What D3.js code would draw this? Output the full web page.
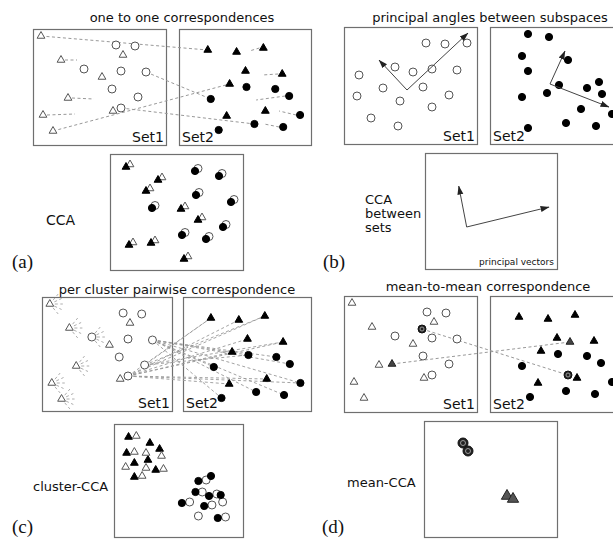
<!DOCTYPE html>
<html lang="en">
<head>
<meta charset="UTF-8">
<script src="https://d3js.org/d3.v7.min.js"></script>
<style>
body { margin: 0; background: #fff; }
text { font-family: "DejaVu Sans", sans-serif; fill: #111; }
.lab { font-family: "Liberation Serif", serif; }
</style>
</head>
<body>
<svg id="fig" width="613" height="539"></svg>
<script>
// all points are in box units: x 0..133, y 0..116, origin = top left of the box
const set1Tri  = [[8,7],[90,26],[28,31],[69,48],[35,69],[10,86],[80,82],[20,102]];
const set1Circ = [[83,16],[102,17],[51,40],[88,42],[113,43],[79,60],[105,68],[88,79]];
const set2Tri  = [[29,21],[58,23],[85,19],[67,42],[104,45],[51,55],[87,82],[48,87]];
const set2Circ = [[32,70],[68,58],[97,60],[111,67],[122,86],[76,95],[105,98],[40,101]];

// (a) one to one correspondences: [kind1, i1, kind2, i2]
const oneToOne = [["t",0,"t",0],["t",7,"t",5],["c",4,"c",0],["c",7,"c",5]];
// short dashed stubs [kind, index, dx, dy]
const stubs1 = [["t",2,16,0],["t",4,26,1],["t",5,32,-1]];
const stubs2 = [["t",2,-14,3],["t",4,-20,1],["c",3,-33,4],["c",4,-21,-4],["c",6,-19,-3]];
// CCA result (filled point, open partner drawn slightly up-right)
const ccaTri  = [[16,13],[48,26],[36,37],[71,55],[88,66],[19,91],[41,89],[74,105]];
const ccaCirc = [[85,17],[109,22],[86,41],[121,48],[42,54],[113,73],[72,81],[96,85]];

// (b) principal angles
const bSet1 = [[82,16],[101,17],[123,16],[51,40],[69,45],[88,42],[113,43],[15,48],
               [39,61],[79,60],[13,69],[105,68],[56,74],[88,80],[27,91],[54,99]];
const bSet2 = [[38,7],[59,10],[32,29],[78,33],[38,44],[69,58],[109,55],[97,61],
               [112,67],[32,70],[57,66],[91,82],[122,87],[38,101],[76,96],[106,99]];
const bVec1 = {o:[63,63], tips:[[35,33],[124,6]]};
const bVec2 = {o:[60,57], tips:[[75,24],[119,80]]};
const bVecCCA = {o:[42,74], tips:[[34,33],[125,54]]};

// (c) per cluster pairwise: [set1 circle index, kind, set2 index]
const pairLinks = [
  [4,"c",0],[4,"c",1],[4,"c",2],[4,"c",3],[4,"c",4],[4,"c",5],[4,"c",6],[4,"c",7],
  [7,"t",0],[7,"t",1],[7,"t",2],[7,"t",3],[7,"t",4],[7,"t",5],[7,"t",6],[7,"t",7],[7,"c",4],
  [6,"t",0],[6,"t",2],[6,"t",4],[6,"c",1]
];
const fanTri = [0,2,4,5,7];
const fanCirc = [2];
const clusterTriF = [[15,13],[37,19],[13,29],[47,25],[35,36],[21,39],[43,46],[21,53]];
const clusterTriO = [[23,12],[21,28],[33,29],[49,32],[12,43],[33,44],[51,45],[29,52]];
const clusterCircF = [[87,57],[100,52],[84,68],[98,72],[110,71],[70,79],[93,82],[107,94]];
const clusterCircO = [[95,56],[91,68],[106,70],[112,78],[78,78],[101,81],[87,92],[115,93]];

// (d) mean-to-mean
const meanS1 = {c:[78,33], t:[48,68]};
const meanS2 = {c:[78,79], t:[80,46]};
const meanCCACirc = [[39,22],[44,30]];
const meanCCATri = [[83,75],[89,78]];

const titles = ["one to one correspondences","principal angles between subspaces",
                "per cluster pairwise correspondence","mean-to-mean correspondence"];

// layout
const L = {
  a: {s1:{x:33,y:29,w:133,h:116}, s2:{x:179,y:29,w:132,h:116}, low:{x:110,y:154,w:133,h:116}},
  b: {s1:{x:344,y:27,w:133,h:117}, s2:{x:490,y:27,w:133,h:117}, low:{x:425,y:153,w:132,h:116}},
  c: {s1:{x:42,y:297,w:130,h:114}, s2:{x:183,y:297,w:128,h:114}, low:{x:114,y:424,w:129,h:113}},
  d: {s1:{x:344,y:296,w:133,h:116}, s2:{x:490,y:296,w:133,h:116}, low:{x:424,y:421,w:133,h:116}}
};

const svg = d3.select("#fig");
const GRAY = "#6f6f6f";

svg.append("defs").append("marker")
  .attr("id","arr").attr("viewBox","0 -4 9 8")
  .attr("refX",8.5).attr("refY",0)
  .attr("markerWidth",9).attr("markerHeight",8)
  .attr("markerUnits","userSpaceOnUse").attr("orient","auto")
  .append("path").attr("d","M0,-3L9,0L0,3Z").attr("fill","#222");

function scales(b) {
  return {
    x: d3.scaleLinear().domain([0,133]).range([b.x, b.x + b.w]),
    y: d3.scaleLinear().domain([0,116]).range([b.y, b.y + b.h * 116 / b.h])
  };
}

function box(b) {
  svg.append("rect").attr("x",b.x+0.5).attr("y",b.y+0.5)
    .attr("width",b.w).attr("height",b.h)
    .attr("fill","none").attr("stroke",GRAY).attr("stroke-width",1.2);
}

const triPath = size => d3.symbol().type(d3.symbolTriangle).size(size)();

function circles(pts, s, r, fill, stroke, dx = 0, dy = 0) {
  svg.append("g").selectAll("circle").data(pts).join("circle")
    .attr("cx", d => s.x(d[0]) + dx).attr("cy", d => s.y(d[1]) + dy)
    .attr("r", r).attr("fill", fill).attr("stroke", stroke).attr("stroke-width", 1);
}

function tris(pts, s, size, fill, stroke, dx = 0, dy = 0) {
  svg.append("g").selectAll("path").data(pts).join("path")
    .attr("d", triPath(size))
    .attr("transform", d => `translate(${s.x(d[0]) + dx},${s.y(d[1]) + dy})`)
    .attr("fill", fill).attr("stroke", stroke).attr("stroke-width", 1);
}

function dash(x1, y1, x2, y2, w = 1) {
  svg.append("line").attr("x1",x1).attr("y1",y1).attr("x2",x2).attr("y2",y2)
    .attr("stroke","#999").attr("stroke-width",w).attr("stroke-dasharray","3,2.5");
}

function setPanels(p) {
  box(p.s1); box(p.s2);
  svg.append("text").attr("x",p.s1.x+p.s1.w-2).attr("y",p.s1.y+p.s1.h-3)
    .attr("text-anchor","end").attr("font-size",14).text("Set1");
  svg.append("text").attr("x",p.s2.x+3).attr("y",p.s2.y+p.s2.h-3)
    .attr("font-size",14).text("Set2");
}

function vectors(v, s) {
  v.tips.forEach(t => {
    svg.append("line").attr("x1",s.x(v.o[0])).attr("y1",s.y(v.o[1]))
      .attr("x2",s.x(t[0])).attr("y2",s.y(t[1]))
      .attr("stroke","#444").attr("stroke-width",1).attr("marker-end","url(#arr)");
  });
}

const pick = (kind, i, tri, circ) => kind === "t" ? tri[i] : circ[i];

const OPEN = "#555", R = 4, TS = 26;

// ---------- (a) ----------
{
  const p = L.a, a1 = scales(p.s1), a2 = scales(p.s2), lo = scales(p.low);
  setPanels(p); box(p.low);
  oneToOne.forEach(([k1,i1,k2,i2]) => {
    const u = pick(k1,i1,set1Tri,set1Circ), v = pick(k2,i2,set2Tri,set2Circ);
    dash(a1.x(u[0]), a1.y(u[1]), a2.x(v[0]), a2.y(v[1]));
  });
  stubs1.forEach(([k,i,dx,dy]) => {
    const u = pick(k,i,set1Tri,set1Circ);
    dash(a1.x(u[0])+4, a1.y(u[1]), a1.x(u[0])+dx, a1.y(u[1])+dy);
  });
  stubs2.forEach(([k,i,dx,dy]) => {
    const u = pick(k,i,set2Tri,set2Circ);
    dash(a2.x(u[0])-4, a2.y(u[1]), a2.x(u[0])+dx, a2.y(u[1])+dy);
  });
  tris(set1Tri, a1, TS, "#fff", OPEN);
  circles(set1Circ, a1, R, "#fff", OPEN);
  tris(set2Tri, a2, TS, "#000", "#000");
  circles(set2Circ, a2, 3.6, "#000", "#000");
  tris(ccaTri, lo, TS, "#fff", OPEN, 4, -2.5);
  tris(ccaTri, lo, TS, "#000", "#000");
  circles(ccaCirc, lo, R, "#fff", OPEN, 3, -2.5);
  circles(ccaCirc, lo, 3.6, "#000", "#000");
  svg.append("text").attr("x",46).attr("y",225).attr("font-size",14).text("CCA");
  svg.append("text").attr("x",182).attr("y",22).attr("text-anchor","middle").attr("font-size",13).text(titles[0]);
  svg.append("text").attr("class","lab").attr("x",12).attr("y",268).attr("font-size",19).text("(a)");
}

// ---------- (b) ----------
{
  const p = L.b, b1 = scales(p.s1), b2 = scales(p.s2), lo = scales(p.low);
  setPanels(p); box(p.low);
  circles(bSet1, b1, R, "#fff", OPEN);
  circles(bSet2, b2, 3.6, "#000", "#000");
  vectors(bVec1, b1); vectors(bVec2, b2); vectors(bVecCCA, lo);
  ["CCA","between","sets"].forEach((t,i) =>
    svg.append("text").attr("x",365).attr("y",204+i*14).attr("font-size",13).text(t));
  svg.append("text").attr("x",p.low.x+p.low.w-3).attr("y",p.low.y+p.low.h-4)
    .attr("text-anchor","end").attr("font-size",9).text("principal vectors");
  svg.append("text").attr("x",490).attr("y",22).attr("text-anchor","middle").attr("font-size",13).text(titles[1]);
  svg.append("text").attr("class","lab").attr("x",323).attr("y",268).attr("font-size",19).text("(b)");
}

// ---------- (c) ----------
{
  const p = L.c, c1 = scales(p.s1), c2 = scales(p.s2), lo = scales(p.low);
  setPanels(p); box(p.low);
  pairLinks.forEach(([i,k,j]) => {
    const u = set1Circ[i], v = pick(k,j,set2Tri,set2Circ);
    dash(c1.x(u[0]), c1.y(u[1]), c2.x(v[0]), c2.y(v[1]), 0.9);
  });
  const fanPts = fanTri.map(i => set1Tri[i]).concat(fanCirc.map(i => set1Circ[i]));
  fanPts.forEach(u => {
    d3.range(-50, 51, 25).forEach(a => {
      const r = a * Math.PI / 180, x = c1.x(u[0]), y = c1.y(u[1]);
      dash(x + 5*Math.cos(r), y + 5*Math.sin(r), x + 13*Math.cos(r), y + 13*Math.sin(r), 0.8);
    });
  });
  tris(set1Tri, c1, TS, "#fff", OPEN);
  circles(set1Circ, c1, R, "#fff", OPEN);
  tris(set2Tri, c2, TS, "#000", "#000");
  circles(set2Circ, c2, 3.6, "#000", "#000");
  tris(clusterTriF, lo, TS, "#000", "#000");
  tris(clusterTriO, lo, TS, "#fff", OPEN);
  circles(clusterCircO, lo, R, "#fff", OPEN);
  circles(clusterCircF, lo, 3.6, "#000", "#000");
  svg.append("text").attr("x",33).attr("y",491).attr("font-size",13).text("cluster-CCA");
  svg.append("text").attr("x",177).attr("y",294).attr("text-anchor","middle").attr("font-size",13).text(titles[2]);
  svg.append("text").attr("class","lab").attr("x",12).attr("y",533).attr("font-size",19).text("(c)");
}

// ---------- (d) ----------
{
  const p = L.d, d1 = scales(p.s1), d2 = scales(p.s2), lo = scales(p.low);
  setPanels(p); box(p.low);
  dash(d1.x(meanS1.c[0]), d1.y(meanS1.c[1]), d2.x(meanS2.c[0]), d2.y(meanS2.c[1]));
  dash(d1.x(meanS1.t[0]), d1.y(meanS1.t[1]), d2.x(meanS2.t[0]), d2.y(meanS2.t[1]));
  tris(set1Tri, d1, TS, "#fff", OPEN);
  circles(set1Circ, d1, R, "#fff", OPEN);
  tris(set2Tri, d2, TS, "#000", "#000");
  circles(set2Circ, d2, 3.6, "#000", "#000");
  const ringed = (pts, s, r) => {
    circles(pts, s, r, "#222", "#111");
    circles(pts, s, r * 0.5, "#222", "#999");
  };
  ringed([meanS1.c], d1, 4); ringed([meanS2.c], d2, 4);
  tris([meanS1.t], d1, TS, "#444", "#222");
  tris([meanS2.t], d2, TS, "#444", "#222");
  ringed(meanCCACirc, lo, 5);
  tris(meanCCATri, lo, 55, "#555", "#222");
  svg.append("text").attr("x",347).attr("y",487).attr("font-size",13).text("mean-CCA");
  svg.append("text").attr("x",488).attr("y",291).attr("text-anchor","middle").attr("font-size",13).text(titles[3]);
  svg.append("text").attr("class","lab").attr("x",322).attr("y",533).attr("font-size",19).text("(d)");
}
</script>
</body>
</html>
